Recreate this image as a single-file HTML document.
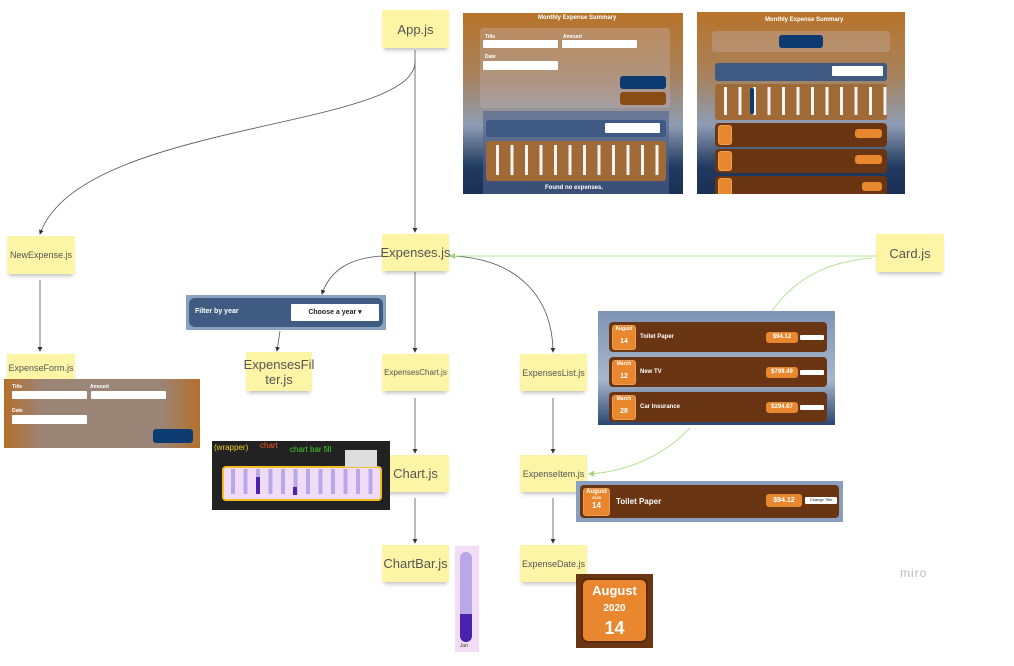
<!DOCTYPE html>
<html><head><meta charset="utf-8"><style>
*{margin:0;padding:0;box-sizing:border-box}
body{width:1014px;height:666px;background:#fff;position:relative;overflow:hidden;font-family:"Liberation Sans",sans-serif}
.n{position:absolute;background:#fdf5a6;color:#555;font-size:10px;display:flex;align-items:center;justify-content:center;text-align:center;box-shadow:0 4px 4px -2px rgba(0,0,0,.25)}
.big{font-size:13px}
.a{position:absolute}
.bg1{overflow:hidden;background:linear-gradient(180deg,#b8732a 0%,#a7825c 35%,#8e9cb4 62%,#213a60 85%,#1b3055 100%)}
.wb{background:#fff;position:absolute;border-radius:1px}
.lbl{position:absolute;color:#fff;font-size:5px;font-weight:bold}
.card{position:absolute;background:#6a3512;border-radius:4px}
.dt{position:absolute;background:#e8872e;border:1px solid #fff3;border-radius:3px;color:#fff;font-weight:bold;text-align:center}
.pr{position:absolute;background:#e8872e;color:#fff;font-weight:bold;border-radius:3px;text-align:center}
.bars{position:absolute;background-image:repeating-linear-gradient(90deg,transparent 0,transparent 5px,#f4f4f4 5px,#f4f4f4 8px,transparent 8px,transparent 14.5px)}
</style></head><body>
<svg class="a" style="left:0;top:0" width="1014" height="666">
<defs><marker id="m" markerWidth="6" markerHeight="6" refX="5" refY="3" orient="auto"><path d="M0,0L6,3L0,6z" fill="#333"/></marker>
<marker id="g" markerWidth="6" markerHeight="6" refX="5" refY="3" orient="auto"><path d="M0,0L6,3L0,6z" fill="#9fd67a"/></marker></defs>
<g stroke="#555" fill="none" stroke-width="0.8" marker-end="url(#m)">
<path d="M415,50 L415,232"/>
<path d="M415,60 C420,130 80,120 40,234"/>
<path d="M382,256 C350,258 330,270 322,294"/>
<path d="M280,331 L277,351"/>
<path d="M415,272 L415,352"/>
<path d="M450,256 C520,258 553,300 553,352"/>
<path d="M40,280 L40,351"/>
<path d="M415,398 L415,453"/>
<path d="M415,498 L415,543"/>
<path d="M553,398 L553,453"/>
<path d="M553,498 L553,543"/>
</g>
<g stroke="#b6e39a" fill="none" stroke-width="1">
<path d="M876,256 L450,256" marker-end="url(#g)"/>
<path d="M872,258 C820,262 790,285 772,311"/>
<path d="M690,428 C660,460 620,472 589,474" marker-end="url(#g)"/>
</g>
<text x="900" y="577" font-size="12" fill="#bbb" font-family="Liberation Sans" letter-spacing="1">miro</text>
</svg>

<div class="n big" style="left:382px;top:10px;width:67px;height:38px">App.js</div>
<div class="n" style="left:7px;top:236px;width:68px;height:38px;font-size:9px">NewExpense.js</div>
<div class="n big" style="left:382px;top:234px;width:67px;height:37px">Expenses.js</div>
<div class="n big" style="left:876px;top:234px;width:68px;height:38px">Card.js</div>
<div class="n big" style="left:246px;top:352px;width:66px;height:39px;line-height:15px">ExpensesFil<br>ter.js</div>
<div class="n" style="left:382px;top:354px;width:67px;height:37px;font-size:8px">ExpensesChart.js</div>
<div class="n" style="left:520px;top:354px;width:67px;height:37px;font-size:9px">ExpensesList.js</div>
<div class="n" style="left:7px;top:354px;width:68px;height:28px;font-size:9px">ExpenseForm.js</div>
<div class="n big" style="left:382px;top:455px;width:67px;height:37px">Chart.js</div>
<div class="n" style="left:520px;top:455px;width:67px;height:37px;font-size:9px">ExpenseItem.js</div>
<div class="n big" style="left:382px;top:545px;width:67px;height:37px">ChartBar.js</div>
<div class="n" style="left:520px;top:545px;width:67px;height:37px;font-size:9px">ExpenseDate.js</div>

<!-- screenshot 1 -->
<div class="a bg1" style="left:463px;top:13px;width:220px;height:181px">
<div class="lbl" style="left:75px;top:2px;font-size:6px">Monthly Expense Summary</div>
<div class="a" style="left:17px;top:15px;width:190px;height:80px;background:rgba(200,190,200,.3);border-radius:3px"></div>
<div class="lbl" style="left:22px;top:21px">Title</div><div class="lbl" style="left:100px;top:21px">Amount</div>
<div class="wb" style="left:20px;top:27px;width:75px;height:8px"></div><div class="wb" style="left:99px;top:27px;width:75px;height:8px"></div>
<div class="lbl" style="left:22px;top:41px">Date</div>
<div class="wb" style="left:20px;top:48px;width:75px;height:9px"></div>
<div class="a" style="left:157px;top:63px;width:46px;height:13px;background:#0d3a70;border-radius:3px"></div>
<div class="a" style="left:157px;top:79px;width:46px;height:13px;background:#8a4c15;border-radius:3px"></div>
<div class="a" style="left:20px;top:98px;width:186px;height:83px;background:rgba(80,100,140,.6)"></div>
<div class="a" style="left:23px;top:107px;width:180px;height:17px;background:#3e5a82;border-radius:3px"></div>
<div class="wb" style="left:142px;top:110px;width:55px;height:10px"></div>
<div class="a" style="left:23px;top:128px;width:180px;height:40px;background:#a06a37;border-radius:3px"></div>
<div class="bars" style="left:28px;top:132px;width:172px;height:30px"></div>
<div class="lbl" style="left:82px;top:172px;font-size:6px">Found no expenses.</div>
</div>
<!-- screenshot 2 -->
<div class="a bg1" style="left:697px;top:12px;width:208px;height:182px">
<div class="lbl" style="left:68px;top:5px;font-size:6px">Monthly Expense Summary</div>
<div class="a" style="left:15px;top:19px;width:178px;height:21px;background:rgba(200,190,200,.3);border-radius:3px"></div>
<div class="a" style="left:82px;top:23px;width:44px;height:13px;background:#0d3a70;border-radius:3px"></div>
<div class="a" style="left:18px;top:51px;width:172px;height:18px;background:#3e5a82;border-radius:3px"></div>
<div class="wb" style="left:135px;top:54px;width:51px;height:10px"></div>
<div class="a" style="left:18px;top:72px;width:172px;height:36px;background:#a06a37;border-radius:3px"></div>
<div class="bars" style="left:22px;top:75px;width:168px;height:28px"></div>
<div class="a" style="left:53px;top:76px;width:4px;height:26px;background:#0d3a70;border-radius:2px"></div>
<div class="card" style="left:18px;top:111px;width:172px;height:24px"></div>
<div class="card" style="left:18px;top:137px;width:172px;height:24px"></div>
<div class="card" style="left:18px;top:164px;width:172px;height:24px"></div>
<div class="dt" style="left:21px;top:113px;width:14px;height:20px"></div>
<div class="dt" style="left:21px;top:139px;width:14px;height:20px"></div>
<div class="dt" style="left:21px;top:166px;width:14px;height:20px"></div>
<div class="pr" style="left:158px;top:117px;width:27px;height:9px"></div>
<div class="pr" style="left:158px;top:143px;width:27px;height:9px"></div>
<div class="pr" style="left:165px;top:170px;width:20px;height:9px"></div>
</div>
<!-- filter -->
<div class="a" style="left:186px;top:295px;width:200px;height:35px;background:#8aa1c0">
<div class="a" style="left:3px;top:3px;width:194px;height:29px;background:#3f5b82;border-radius:6px"></div>
<div class="lbl" style="left:9px;top:13px;font-size:7px">Filter by year</div>
<div class="wb" style="left:105px;top:9px;width:88px;height:17px;font-size:7px;font-weight:bold;color:#222;text-align:center;line-height:17px">Choose a year ▾</div>
</div>
<!-- expense form -->
<div class="a" style="left:4px;top:379px;width:196px;height:69px;background:linear-gradient(90deg,#b46f2c,#9b8576 20%,#9b8576 80%,#b46f2c)">
<div class="lbl" style="left:8px;top:5px">Title</div><div class="lbl" style="left:86px;top:5px">Amount</div>
<div class="wb" style="left:8px;top:12px;width:75px;height:8px"></div><div class="wb" style="left:87px;top:12px;width:75px;height:8px"></div>
<div class="lbl" style="left:8px;top:29px">Date</div>
<div class="wb" style="left:8px;top:36px;width:75px;height:9px"></div>
<div class="a" style="left:149px;top:50px;width:40px;height:14px;background:#0d3a70;border-radius:3px"></div>
</div>
<!-- chart -->
<div class="a" style="left:212px;top:441px;width:178px;height:69px;background:#222">
<div class="a" style="left:10px;top:25px;width:160px;height:35px;background:#f0dcf6;border:2px solid #f0c020;border-radius:4px"></div>
<div class="a" style="left:16px;top:28px;width:150px;height:25px;background-image:repeating-linear-gradient(90deg,transparent 0,transparent 3px,#b8a8e8 3px,#b8a8e8 7px,transparent 7px,transparent 12.5px)"></div>
<div class="a" style="left:2px;top:2px;color:#f0d020;font-size:8px">(wrapper)</div>
<div class="a" style="left:48px;top:0px;color:#f05a20;font-size:8px">chart</div>
<div class="a" style="left:78px;top:4px;color:#40d020;font-size:8px">chart bar fill</div>
<div class="a" style="left:133px;top:9px;width:32px;height:17px;background:#ddd"></div>
<div class="a" style="left:44px;top:36px;width:4px;height:17px;background:#5020b0"></div>
<div class="a" style="left:81px;top:46px;width:4px;height:8px;background:#5020b0"></div>
</div>
<!-- card list -->
<div class="a" style="left:598px;top:311px;width:237px;height:114px;background:linear-gradient(180deg,#7e94b4,#a7b6cc 60%,#2a4670)">
<div class="card" style="left:11px;top:11px;width:218px;height:30px"></div>
<div class="card" style="left:11px;top:46px;width:218px;height:30px"></div>
<div class="card" style="left:11px;top:81px;width:218px;height:30px"></div>
<div class="dt" style="left:14px;top:14px;width:24px;height:25px;font-size:5px">August<br><br><span style="font-size:7px">14</span></div>
<div class="dt" style="left:14px;top:49px;width:24px;height:25px;font-size:5px">March<br><br><span style="font-size:7px">12</span></div>
<div class="dt" style="left:14px;top:84px;width:24px;height:25px;font-size:5px">March<br><br><span style="font-size:7px">28</span></div>
<div class="lbl" style="left:42px;top:23px;font-size:6px">Toilet Paper</div>
<div class="lbl" style="left:42px;top:58px;font-size:6px">New TV</div>
<div class="lbl" style="left:42px;top:93px;font-size:6px">Car Insurance</div>
<div class="pr" style="left:168px;top:21px;width:32px;height:11px;font-size:6px;line-height:11px">$94.12</div>
<div class="pr" style="left:168px;top:56px;width:32px;height:11px;font-size:6px;line-height:11px">$799.49</div>
<div class="pr" style="left:168px;top:91px;width:32px;height:11px;font-size:6px;line-height:11px">$294.67</div>
<div class="wb" style="left:202px;top:24px;width:24px;height:5px"></div>
<div class="wb" style="left:202px;top:59px;width:24px;height:5px"></div>
<div class="wb" style="left:202px;top:94px;width:24px;height:5px"></div>
</div>
<!-- expense item -->
<div class="a" style="left:576px;top:481px;width:267px;height:41px;background:#8a9fbf">
<div class="card" style="left:4px;top:4px;width:259px;height:33px"></div>
<div class="dt" style="left:7px;top:7px;width:27px;height:28px;font-size:6px">August<br><span style="font-size:4px">2020</span><br><span style="font-size:8px">14</span></div>
<div class="lbl" style="left:40px;top:16px;font-size:8px">Toilet Paper</div>
<div class="pr" style="left:190px;top:13px;width:36px;height:13px;font-size:7px;line-height:13px">$94.12</div>
<div class="wb" style="left:229px;top:16px;width:32px;height:7px;font-size:4px;color:#222;text-align:center">Change Title</div>
</div>
<!-- date -->
<div class="a" style="left:576px;top:574px;width:77px;height:74px;background:#6a3512">
<div class="dt" style="left:5px;top:4px;width:67px;height:65px;border:2px solid #5a2a0a;border-radius:7px;font-size:13px;line-height:16px;padding-top:3px">August<br><span style="font-size:10px">2020</span><br><span style="font-size:18px;line-height:22px">14</span></div>
</div>
<!-- chartbar -->
<div class="a" style="left:455px;top:546px;width:24px;height:106px;background:#f3dcf6">
<div class="a" style="left:5px;top:6px;width:12px;height:90px;background:#b8a8e8;border-radius:6px;overflow:hidden"><div class="a" style="left:0;top:62px;width:12px;height:28px;background:#4a22b0"></div></div>
<div class="a" style="left:5px;top:97px;font-size:5px;color:#333">Jun</div>
</div>
</body></html>
